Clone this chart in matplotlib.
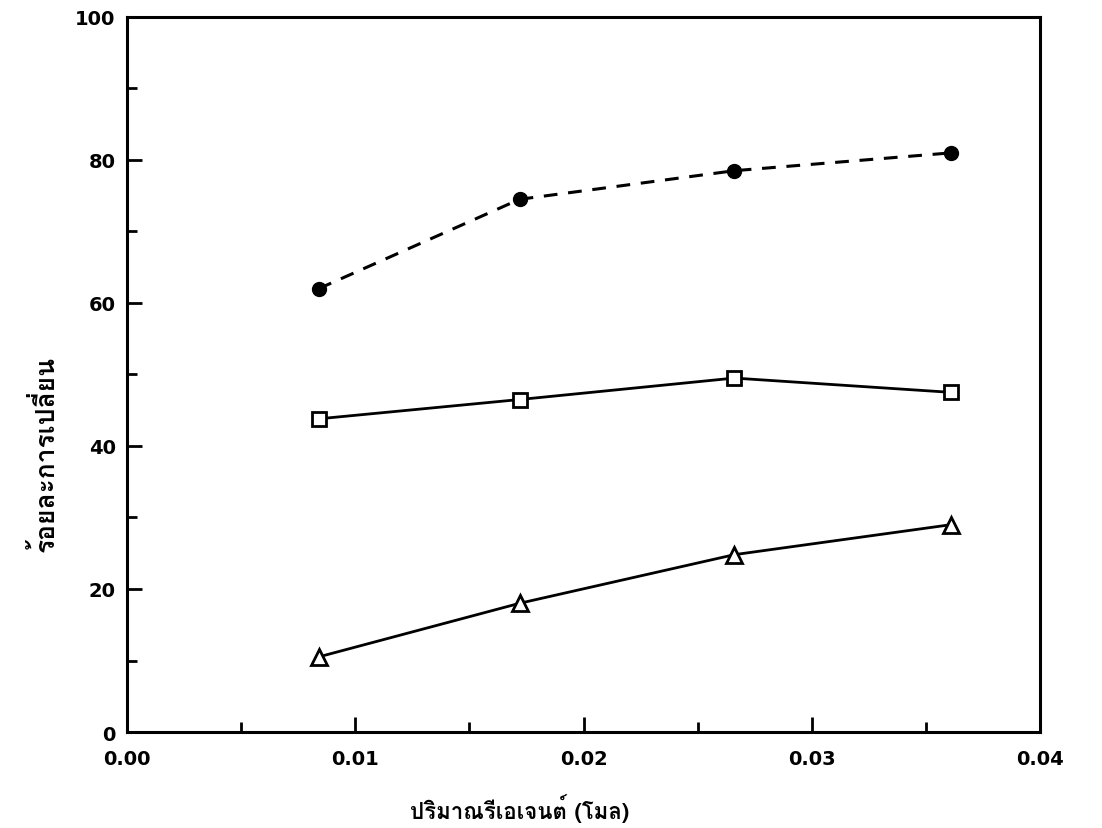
import matplotlib
matplotlib.use('Agg')
import matplotlib.pyplot as plt
from matplotlib import font_manager as fm
from matplotlib.ft2font import FT2Font
from matplotlib.ticker import MultipleLocator, FormatStrFormatter

# ---- data ----
reagent_mol = [0.0084, 0.0172, 0.0266, 0.0361]
conv_circle = [62.0, 74.5, 78.5, 81.0]
conv_square = [43.8, 46.5, 49.5, 47.5]
conv_triangle = [10.5, 18.0, 24.8, 29.0]
x_ticks = [0.00, 0.01, 0.02, 0.03, 0.04]
y_ticks = [0, 20, 40, 60, 80, 100]
x_label = "ปริมาณรีเอเจนต์ (โมล)"
y_label = "ร้อยละการเปลี่ยน"

# find a font with Thai glyphs
thai_family = None
for f in fm.fontManager.ttflist:
    try:
        if 0x0E23 in FT2Font(f.fname).get_charmap():
            thai_family = f.name
            break
    except Exception:
        pass
fam = [thai_family, 'DejaVu Sans'] if thai_family else ['DejaVu Sans']

fig = plt.figure(figsize=(11.02, 8.29), dpi=100)
ax = fig.add_axes([0.115, 0.1158, 0.829, 0.8625])

ax.plot(reagent_mol, conv_circle, color='black', lw=2.2, linestyle=(0, (4.5, 3.5)),
        marker='o', markersize=10, markerfacecolor='black', markeredgecolor='black')
ax.plot(reagent_mol, conv_square, color='black', lw=2.0,
        marker='s', markersize=10, markerfacecolor='white', markeredgecolor='black', markeredgewidth=2)
ax.plot(reagent_mol, conv_triangle, color='black', lw=2.0,
        marker='^', markersize=12, markerfacecolor='white', markeredgecolor='black', markeredgewidth=2)

ax.set_xlim(0, 0.04)
ax.set_ylim(0, 100)
ax.set_xticks(x_ticks)
ax.set_yticks(y_ticks)
ax.xaxis.set_major_formatter(FormatStrFormatter('%.2f'))
ax.xaxis.set_minor_locator(MultipleLocator(0.005))
ax.yaxis.set_minor_locator(MultipleLocator(10))
ax.tick_params(which='major', direction='in', length=11, width=2, labelsize=14, pad=8)
ax.tick_params(axis='x', which='major', pad=12)
ax.tick_params(which='minor', direction='in', length=7, width=2)
for lab in ax.get_xticklabels() + ax.get_yticklabels():
    lab.set_fontweight('bold')
for s in ax.spines.values():
    s.set_linewidth(2.2)

ax.set_xlabel(x_label, family=fam, fontsize=16, fontweight='bold')
ax.set_ylabel(y_label, family=fam, fontsize=19, fontweight='bold')
ax.xaxis.set_label_coords(0.43, -0.085)
ax.yaxis.set_label_coords(-0.075, 0.39)

fig.savefig('out.png', dpi=100)
